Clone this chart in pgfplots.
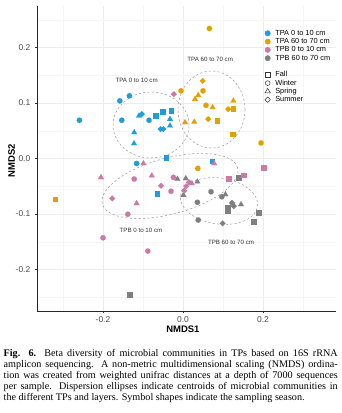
\documentclass[border=0pt]{standalone}
\usepackage{fontspec}
\setmainfont{Liberation Serif}
\newfontfamily\lsans{Liberation Sans}
\usepackage{pgfplots}
\pgfplotsset{compat=1.18}
\definecolor{cA}{HTML}{1F9DD9}
\definecolor{cB}{HTML}{E69F00}
\definecolor{cC}{HTML}{CC79A7}
\definecolor{cD}{HTML}{7F7F7F}
\pgfplotsset{
  legmark/.style={only marks, legend image code/.code={\path[draw=none, fill=none] (-3bp,-3bp) rectangle (3bp,3bp); \draw[##1] plot coordinates {(0bp,0bp)};}},
  pc/.style={only marks, mark=*, mark size=2.7bp, color=#1, mark options={line width=0.1bp}, forget plot},
  ps/.style={only marks, mark=square*, mark size=2.4bp, color=#1, mark options={line width=0.1bp}, forget plot},
  pt/.style={only marks, mark=triangle*, mark size=3.3bp, color=#1, mark options={line width=0.1bp}, forget plot},
  pd/.style={only marks, mark=square*, mark size=2.05bp, color=#1, mark options={rotate=45, line width=0.1bp}, forget plot},
}
\begin{document}
\begin{tikzpicture}
\useasboundingbox (0,0) rectangle (342bp,413bp);
\begin{axis}[
  at={(37bp,102bp)}, anchor=south west,
  scale only axis, width=299bp, height=305bp,
  xmin=-0.365, xmax=0.3825, ymin=-0.275, ymax=0.275,
  axis lines*=left, axis line style={black!85, line width=0.6bp},
  xtick={-0.2,0,0.2}, xticklabels={-0.2,0.0,0.2},
  ytick={-0.2,-0.1,0,0.1,0.2}, yticklabels={-0.2,-0.1,0.0,0.1,0.2},
  minor xtick={-0.3,-0.1,0.1,0.3},
  minor ytick={-0.25,-0.15,-0.05,0.05,0.15,0.25},
  grid=both, major grid style={black!7,line width=0.4bp}, minor grid style={black!3.5,line width=0.3bp},
  tick align=outside, major tick length=2.5bp, minor tick length=0pt,
  tick style={black!80, line width=0.5bp},
  ticklabel style={font=\lsans\fontsize{8.5}{9}\selectfont, text=black!70, inner sep=0pt},
  xticklabel style={yshift=-2.8bp},
  yticklabel style={xshift=-4bp},
  xlabel={NMDS1}, ylabel={NMDS2},
  label style={font=\lsans\bfseries\fontsize{9.5}{10}\selectfont, inner sep=0pt},
  xlabel style={at={(axis description cs:0.488,-0.060)}, anchor=center},
  ylabel style={at={(axis description cs:-0.0846,0.492)}, anchor=center},
  legend style={at={(axis description cs:0.7615,0.9216)}, anchor=north west, draw=none, fill=none,
    inner sep=0pt, outer sep=0pt, column sep=4.6bp, row sep=1.5bp,
    font=\lsans\fontsize{7.4}{8}\selectfont,
    nodes={inner sep=0pt, text height=5.3bp, text depth=1.5bp}, cells={anchor=west}},
]
\addlegendimage{legmark, mark=*, mark size=2.7bp, cA}
\addlegendentry{TPA 0 to 10 cm}
\addlegendimage{legmark, mark=*, mark size=2.7bp, cB}
\addlegendentry{TPA 60 to 70 cm}
\addlegendimage{legmark, mark=*, mark size=2.7bp, cC}
\addlegendentry{TPB 0 to 10 cm}
\addlegendimage{legmark, mark=*, mark size=2.7bp, cD}
\addlegendentry{TPB 60 to 70 cm}
\addlegendimage{empty legend}
\addlegendentry{\rule{0pt}{7bp}}
\addlegendimage{legmark, mark=square, mark size=2.2bp, black!80, mark options={line width=0.5bp}}
\addlegendentry{Fall}
\addlegendimage{legmark, mark=o, mark size=2.4bp, black!80, mark options={line width=0.5bp}}
\addlegendentry{Winter}
\addlegendimage{legmark, mark=triangle, mark size=3.1bp, black!80, mark options={line width=0.5bp}}
\addlegendentry{Spring}
\addlegendimage{legmark, mark=square, mark size=1.9bp, black!80, mark options={rotate=45, line width=0.5bp}}
\addlegendentry{Summer}

% dispersion ellipses
\draw[black!40, line width=0.5bp, dash pattern=on 2.2bp off 2.2bp] (axis cs:-0.08,0.0604) ellipse [x radius=38bp, y radius=33bp];
\draw[black!40, line width=0.5bp, dash pattern=on 2.2bp off 2.2bp] (axis cs:0.0713,0.0883) ellipse [x radius=33.5bp, y radius=38.5bp];
\draw[black!40, line width=0.5bp, dash pattern=on 2.2bp off 2.2bp, rotate around={15:(axis cs:-0.0325,-0.0495)}] (axis cs:-0.0325,-0.0495) ellipse [x radius=70bp, y radius=28bp];
\draw[black!40, line width=0.5bp, dash pattern=on 2.2bp off 2.2bp, rotate around={-8:(axis cs:0.09,-0.0766)}] (axis cs:0.09,-0.0766) ellipse [x radius=39bp, y radius=23bp];

% TPA 0 to 10 cm
\addplot[pc=cA] coordinates {(-0.259,0.069) (-0.158,0.104) (-0.134,0.113) (-0.153,0.069) (-0.085,0.069) (-0.116,-0.009)};
\addplot[ps=cA] coordinates {(-0.069,0.078) (-0.051,0.084) (-0.030,0.086) (-0.0425,0.002) (-0.065,-0.063) (0.0725,-0.0045)};
\addplot[pt=cA] coordinates {(-0.110,0.077) (-0.0325,0.071) (-0.0325,0.059) (-0.122,0.047) (-0.1225,0.027)};
\addplot[pd=cA] coordinates {(-0.103,0.080) (-0.056,0.053) (-0.049,0.053)};
% TPA 60 to 70 cm
\addplot[pc=cB] coordinates {(0.066,0.2345) (-0.005,0.122) (0.050,0.122) (0.0575,0.096) (0.195,0.028) (0.037,-0.018)};
\addplot[ps=cB] coordinates {(0.125,0.090) (0.085,0.068) (0.123,0.044) (-0.320,-0.073)};
\addplot[pt=cB] coordinates {(0.038,0.114) (0.030,0.107) (0.074,0.092) (0.126,0.104) (0.005,0.065) (0.028,0.066)};
\addplot[pd=cB] coordinates {(0.049,0.140) (0.113,0.089) (0.063,0.071)};
% TPB 60 to 70 cm
\addplot[pc=cD] coordinates {(0.070,-0.060) (0.036,-0.079) (0.038,-0.111) (0.097,-0.069)};
\addplot[ps=cD] coordinates {(0.112,-0.088) (0.112,-0.094) (0.188,-0.097) (0.177,-0.114) (0.138,-0.035) (-0.134,-0.246)};
\addplot[pt=cD] coordinates {(-0.014,-0.037) (0.007,-0.036) (0.036,-0.042) (0.001,-0.066) (0.106,-0.065) (0.145,-0.083)};
\addplot[pd=cD] coordinates {(0.1225,-0.080) (0.127,-0.086) (0.099,-0.117)};
% TPB 0 to 10 cm
\addplot[pc=cC] coordinates {(-0.122,-0.037) (-0.030,-0.059) (-0.138,-0.1005) (-0.200,-0.143) (-0.088,-0.167) (-0.024,-0.034)};
\addplot[ps=cC] coordinates {(0.113,-0.036) (0.151,-0.030) (0.201,-0.016)};
\addplot[pt=cC] coordinates {(-0.099,-0.009) (-0.205,-0.034) (-0.078,-0.031) (-0.116,-0.081) (0.078,-0.009) (0.022,-0.045)};
\addplot[pd=cC] coordinates {(-0.023,0.116) (-0.055,-0.049) (-0.177,-0.072) (0.015,-0.043) (0.008,-0.050) (0.003,-0.058)};

\node[font=\lsans\fontsize{6.2}{7}\selectfont, text=black!80, inner sep=0pt] at (axis cs:-0.116,0.140) {TPA 0 to 10 cm};
\node[font=\lsans\fontsize{6.2}{7}\selectfont, text=black!80, inner sep=0pt] at (axis cs:0.068,0.179) {TPA 60 to 70 cm};
\node[font=\lsans\fontsize{6.2}{7}\selectfont, text=black!80, inner sep=0pt] at (axis cs:-0.105,-0.130) {TPB 0 to 10 cm};
\node[font=\lsans\fontsize{6.2}{7}\selectfont, text=black!80, inner sep=0pt] at (axis cs:0.120,-0.151) {TPB 60 to 70 cm};
\end{axis}
\node[anchor=base west, inner sep=0pt] at (3.5bp,56bp) {\parbox[t]{334bp}{\fontsize{10.2}{10.9}\selectfont\setlength{\parindent}{0pt}%
\makebox[334bp][s]{\textbf{Fig. 6.} Beta diversity of microbial communities in TPs based on 16S rRNA}\\
\makebox[334bp][s]{amplicon sequencing. A non-metric multidimensional scaling (NMDS) ordina-}\\
\makebox[334bp][s]{tion was created from weighted unifrac distances at a depth of 7000 sequences}\\
\makebox[334bp][s]{per sample. Dispersion ellipses indicate centroids of microbial communities in}\\
the different TPs and layers. Symbol shapes indicate the sampling season.}};
\end{tikzpicture}
\end{document}
